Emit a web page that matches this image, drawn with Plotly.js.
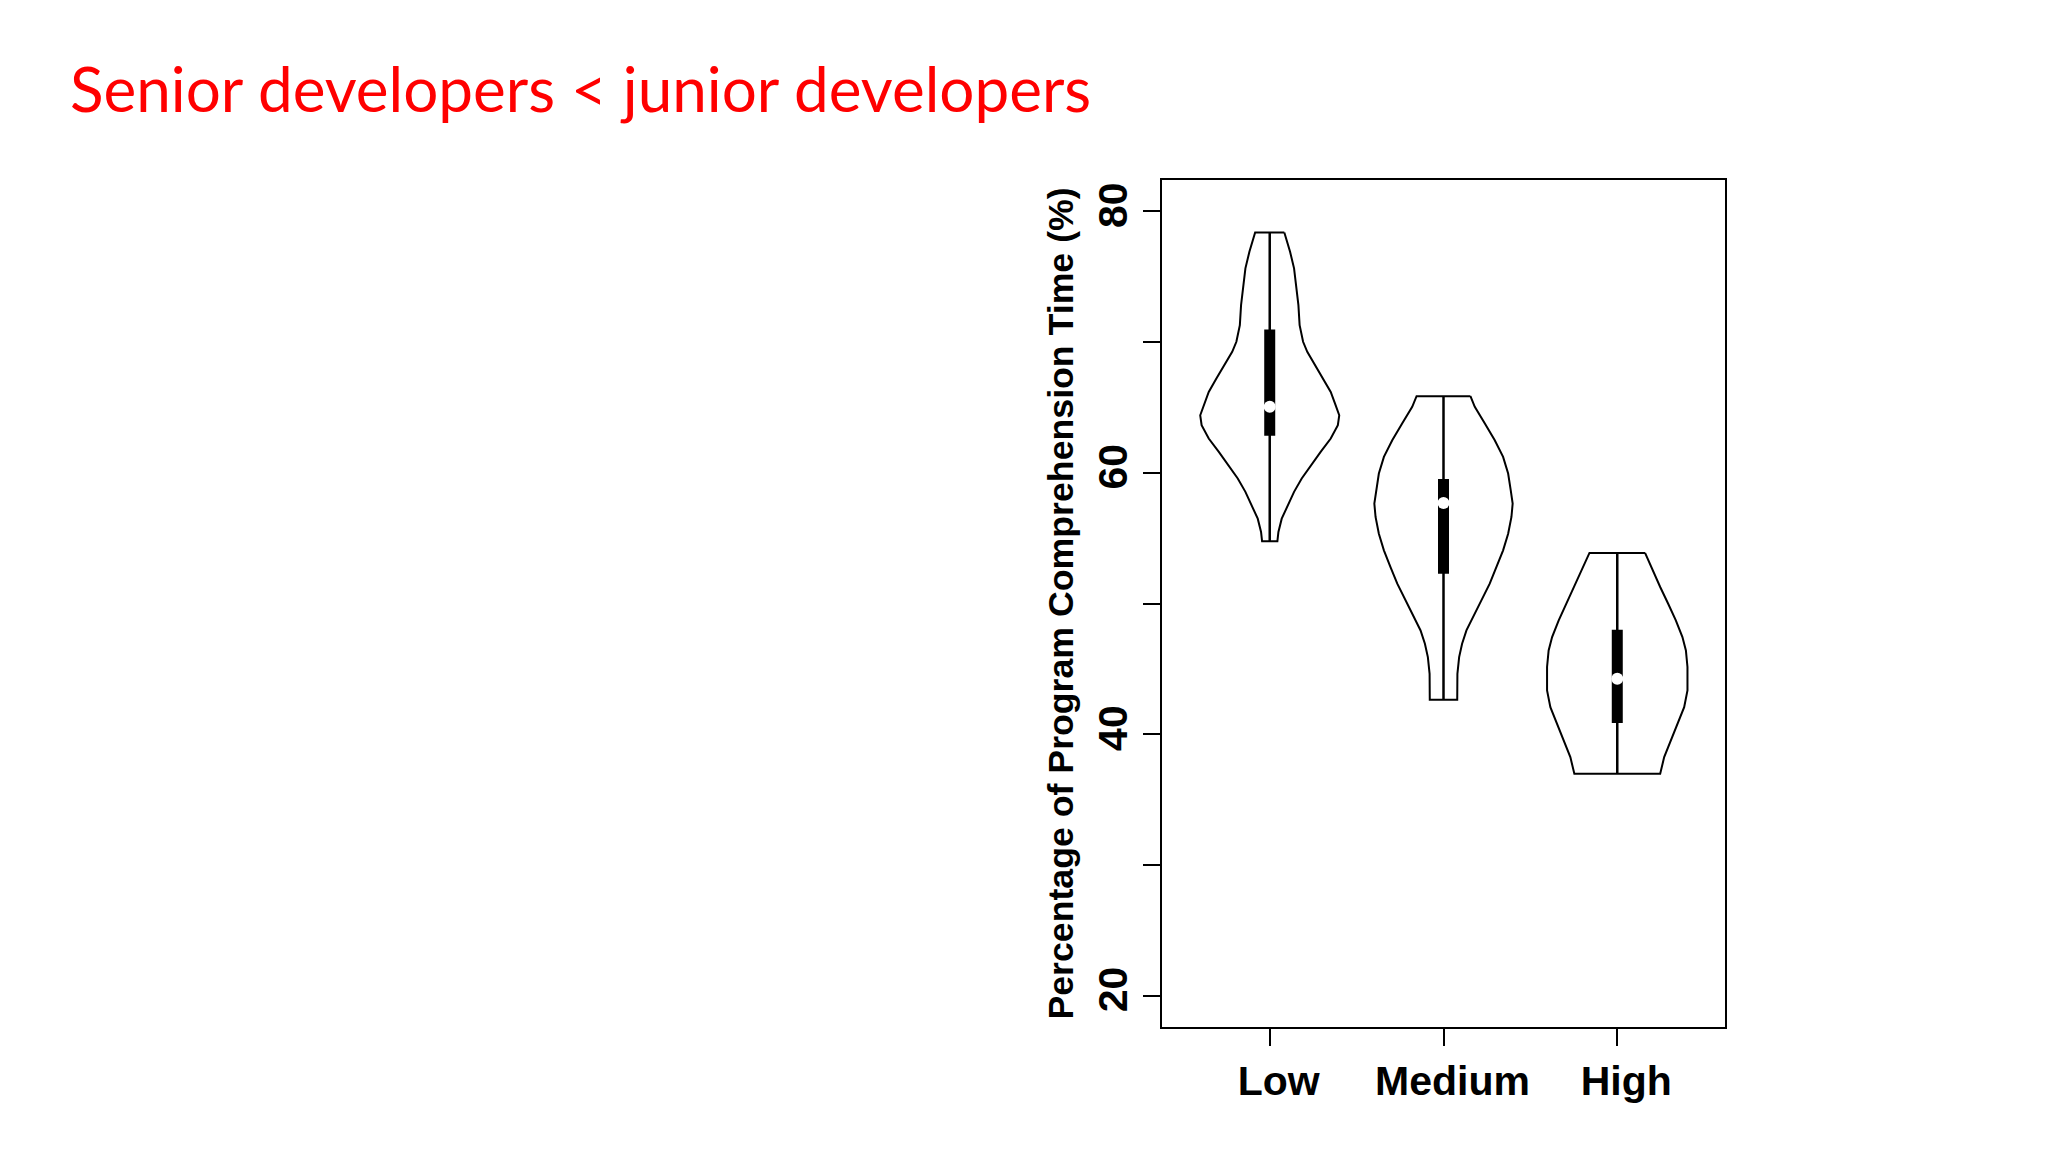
<!DOCTYPE html>
<html>
<head>
<meta charset="utf-8">
<script src="https://cdn.plot.ly/plotly-3.0.1.min.js"></script>
<style>
  html, body { margin: 0; padding: 0; background: #ffffff; }
  #plot { width: 2048px; height: 1152px; }
</style>
</head>
<body>
<div id="plot"></div>
<script>
// experience groups
const categories = ['Low', 'Medium', 'High'];
const catPos = [1, 2, 3];

// violin outlines: y level and half width (x units)
const lowY  = [78.39, 76.91, 75.64, 74.36, 72.83, 71.30, 70.02, 69.25, 68.23, 67.21, 66.19, 65.17, 64.40, 63.64, 62.62, 61.60, 60.57, 59.56, 58.54, 57.51, 56.49, 55.47, 54.76];
const lowW  = [0.084, 0.117, 0.140, 0.153, 0.165, 0.172, 0.192, 0.216, 0.261, 0.307, 0.351, 0.379, 0.400, 0.392, 0.351, 0.293, 0.236, 0.184, 0.140, 0.102, 0.069, 0.050, 0.044];
const medY  = [65.86, 65.05, 63.77, 62.49, 61.22, 59.94, 58.66, 57.64, 56.62, 55.34, 54.07, 52.79, 51.52, 50.24, 48.96, 47.94, 46.92, 45.90, 44.62, 42.63];
const medW  = [0.155, 0.180, 0.238, 0.295, 0.343, 0.372, 0.387, 0.398, 0.391, 0.372, 0.343, 0.305, 0.266, 0.218, 0.170, 0.132, 0.107, 0.090, 0.080, 0.079];
const highY = [53.87, 52.54, 51.26, 49.98, 48.71, 47.43, 46.41, 45.14, 44.11, 43.35, 42.07, 40.80, 39.52, 38.25, 36.97];
const highW = [0.160, 0.203, 0.247, 0.293, 0.337, 0.375, 0.395, 0.404, 0.405, 0.404, 0.385, 0.347, 0.308, 0.270, 0.247];

// box summaries
const minVals    = [54.76, 42.63, 36.97];
const q1Vals     = [62.83, 52.28, 40.85];
const medianVals = [65.05, 57.69, 44.24];
const q3Vals     = [70.96, 59.53, 48.00];
const maxVals    = [78.39, 65.86, 53.87];

const yTicks = [20, 30, 40, 50, 60, 70, 80];
const yTickText = ['20', '', '40', '', '60', '', '80'];

const shapesY = [lowY, medY, highY];
const shapesW = [lowW, medW, highW];

let dataHolder = [];

for (let i = 0; i < categories.length; i++) {
    let c = catPos[i];
    let ys = shapesY[i];
    let ws = shapesW[i];
    let xs = [], yy = [];
    for (let j = 0; j < ys.length; j++) { xs.push(c + ws[j]); yy.push(ys[j]); }
    for (let j = ys.length - 1; j >= 0; j--) { xs.push(c - ws[j]); yy.push(ys[j]); }
    xs.push(xs[0]); yy.push(yy[0]);

    dataHolder.push({
        x: xs, y: yy, type: 'scatter', mode: 'lines',
        fill: 'toself', fillcolor: 'rgba(255,255,255,0)',
        line: {color: '#000000', width: 2},
        hoverinfo: 'skip'
    });
    // whisker
    dataHolder.push({
        x: [c, c], y: [minVals[i], maxVals[i]], type: 'scatter', mode: 'lines',
        line: {color: '#000000', width: 2.5}
    });
    // box
    dataHolder.push({
        x: [c, c], y: [q1Vals[i], q3Vals[i]], type: 'scatter', mode: 'lines',
        line: {color: '#000000', width: 11}
    });
    // median
    dataHolder.push({
        x: [c], y: [medianVals[i]], type: 'scatter', mode: 'markers',
        marker: {color: '#ffffff', size: 12, line: {width: 0}}
    });
}

const axisFont = {family: 'Liberation Sans, Arial, sans-serif', size: 41, color: '#000000', weight: 'bold'};

let layout = {
    width: 2048,
    height: 1152,
    showlegend: false,
    paper_bgcolor: '#ffffff',
    plot_bgcolor: '#ffffff',
    margin: {l: 1162, r: 323, t: 180, b: 125},
    title: {
        text: 'Senior developers &lt; junior developers',
        font: {family: 'Lato, Open Sans, sans-serif', size: 62, color: '#ff0000'},
        x: 70 / 2048, xanchor: 'left', xref: 'container',
        y: 1 - 90 / 1152, yanchor: 'middle', yref: 'container'
    },
    xaxis: {
        range: [0.38, 3.62],
        tickvals: catPos,
        ticktext: categories,
        ticks: 'outside', ticklen: 17, tickwidth: 2, tickcolor: '#000000',
        ticklabelshift: 9,
        showgrid: false, zeroline: false,
        showline: true, mirror: true, linecolor: '#000000', linewidth: 2,
        tickfont: axisFont
    },
    yaxis: {
        range: [17.6, 82.4],
        tickvals: yTicks,
        ticktext: yTickText,
        tickangle: -90,
        ticks: 'outside', ticklen: 17, tickwidth: 2, tickcolor: '#000000',
        showgrid: false, zeroline: false,
        showline: true, mirror: true, linecolor: '#000000', linewidth: 2,
        tickfont: axisFont
    },
    annotations: [{
        text: 'Percentage of Program Comprehension Time (%)',
        xref: 'paper', yref: 'paper',
        x: -0.181, y: 0.5, xanchor: 'center', yanchor: 'middle',
        textangle: -90, showarrow: false,
        font: {family: 'Liberation Sans, Arial, sans-serif', size: 35.7, color: '#000000', weight: 'bold'}
    }]
};

Plotly.newPlot(document.getElementById('plot'), dataHolder, layout, {displayModeBar: false});
</script>
</body>
</html>
